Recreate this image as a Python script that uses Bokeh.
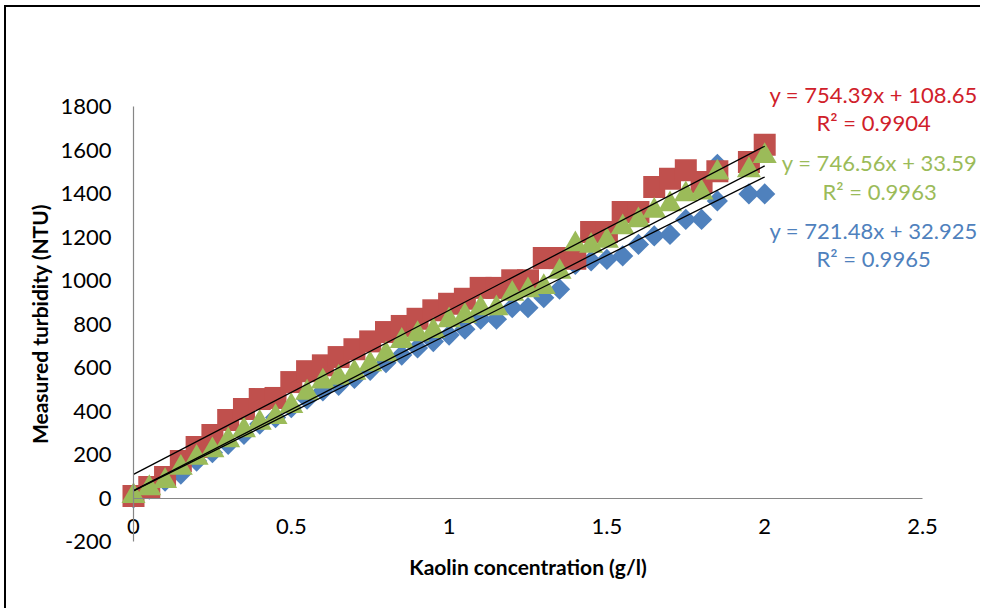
from bokeh.plotting import figure
from bokeh.models import LinearAxis, FixedTicker, Label, Range1d
from bokeh.embed import file_html
from bokeh.resources import INLINE
import math

# ---------------- data ----------------
x_vals = [0.0, 0.05, 0.1, 0.15, 0.2, 0.25, 0.3, 0.35, 0.4, 0.45,
          0.5, 0.55, 0.6, 0.65, 0.7, 0.75, 0.8, 0.85, 0.9, 0.95,
          1.0, 1.05, 1.1, 1.15, 1.2, 1.25, 1.3, 1.35, 1.4, 1.45,
          1.5, 1.55, 1.6, 1.65, 1.7, 1.75, 1.8, 1.85, 1.95, 2.0]

blue_x = [0.0, 0.05, 0.1, 0.15, 0.2, 0.25, 0.3, 0.35, 0.4, 0.45,
          0.5, 0.55, 0.6, 0.65, 0.7, 0.75, 0.8, 0.85, 0.9, 0.95,
          1.0, 1.05, 1.1, 1.15, 1.2, 1.25, 1.3, 1.35, 1.4, 1.45,
          1.5, 1.55, 1.6, 1.65, 1.7, 1.75, 1.8, 1.85, 1.85, 1.95, 2.0]
blue_y = [0, 41, 78, 110, 170, 208, 247, 293, 340, 370,
          415, 454, 492, 518, 550, 587, 622, 657, 690, 719,
          749, 776, 822, 822, 875, 875, 921, 960, 1074, 1090,
          1097, 1113, 1166, 1205, 1212, 1281, 1281, 1366, 1534, 1398, 1398]

red_y = [9, 51, 97, 170, 234, 290, 359, 409, 455, 460,
         533, 583, 610, 648, 684, 720, 763, 791, 824, 863,
         893, 916, 966, 966, 1001, 1001, 1103, 1103, 1100, 1223,
         1223, 1315, 1315, 1430, 1468, 1507, 1453, 1502, 1545, 1624]

green_y = [9, 45, 78, 139, 185, 219, 265, 311, 346, 372,
           423, 484, 535, 553, 576, 615, 661, 722, 753, 768,
           817, 837, 872, 872, 939, 955, 970, 1040, 1166, 1159,
           1182, 1244, 1277, 1320, 1350, 1396, 1404, 1496, 1507, 1572]

# trendline coefficients (as printed on the chart): blue, red, green
trend_names = ["blue", "red", "green"]
slopes = [721.48, 754.39, 746.56]
intercepts = [32.925, 108.65, 33.59]
r2_vals = [0.9965, 0.9904, 0.9963]
trend_x = [0.0, 2.0]

x_ticks = [0, 0.5, 1, 1.5, 2, 2.5]
y_ticks = [-200, 0, 200, 400, 600, 800, 1000, 1200, 1400, 1600, 1800]

# ---------------- style / layout ----------------
BLUE = "#4F81BD"
RED = "#C0504D"
GREEN = "#9BBB59"
TXT_COLORS = {"blue": "#4F81BD", "red": "#D0202A", "green": "#9BBB59"}
FONT = "Lato"
AXIS_GRAY = "#868686"

W, H = 976, 603
# frame fills the whole canvas; ranges chosen so the axis box sits where the
# reference has it (x: 0 -> 127px, 2.5 -> 916px; y: 1800 -> 99px, -200 -> 534px)
xpx = (916 - 127) / 2.5
ypx = (534 - 99) / 2000.0
x0 = -127 / xpx
x1 = 2.5 + (W - 916) / xpx
y1 = 1800 + 99 / ypx
y0 = -200 - (H - 534) / ypx

p = figure(width=W, height=H, output_backend="svg", toolbar_location=None,
           x_range=Range1d(x0, x1), y_range=Range1d(y0, y1),
           min_border=0, x_axis_location=None, y_axis_location=None)
p.styles = {"margin-left": "4px", "margin-top": "5px",
            "border-left": "2px solid #000", "border-top": "2px solid #000"}
p.outline_line_color = None
p.background_fill_color = "white"
p.border_fill_color = "white"
for g in p.grid:
    g.visible = False
p.xgrid.visible = False
p.ygrid.visible = False


def style_axis(ax, title):
    ax.axis_line_color = AXIS_GRAY
    ax.axis_line_width = 1.2
    ax.major_tick_line_color = None
    ax.minor_tick_line_color = None
    ax.major_tick_out = 0
    ax.major_tick_in = 0
    ax.major_label_text_font = FONT
    ax.major_label_text_font_size = "22px"
    ax.major_label_text_color = "#000000"
    ax.axis_label = title
    ax.axis_label_text_font = FONT
    ax.axis_label_text_font_size = "21px"
    ax.axis_label_text_font_style = "bold"
    ax.axis_label_text_color = "#000000"


ya = LinearAxis(fixed_location=0, ticker=FixedTicker(ticks=y_ticks),
                bounds=(y_ticks[0], y_ticks[-1]))
style_axis(ya, "Measured turbidity (NTU)")
ya.major_label_standoff = 22
ya.axis_label_standoff = 5
ya.major_label_overrides = {t: str(t) for t in y_ticks}
p.add_layout(ya, "left")

xa = LinearAxis(fixed_location=0, ticker=FixedTicker(ticks=x_ticks),
                bounds=(x_ticks[0], x_ticks[-1]))
style_axis(xa, "Kaolin concentration (g/l)")
xa.major_label_standoff = 21
xa.axis_label_standoff = 16
xa.major_label_overrides = {t: f"{t:g}" for t in x_ticks}
p.add_layout(xa, "below")

# markers: blue diamonds, red squares, green triangles
p.scatter(blue_x, blue_y, marker="square", angle=math.pi / 4, size=15,
          fill_color=BLUE, line_color=None)
p.scatter(x_vals, red_y, marker="square", size=22,
          fill_color=RED, line_color=None)
p.scatter(x_vals, green_y, marker="triangle", size=24,
          fill_color=GREEN, line_color=None)

# trendlines
for s, b in zip(slopes, intercepts):
    p.line(trend_x, [s * xx + b for xx in trend_x], line_color="#000000",
           line_width=1.3)

# equation labels (placed in data coordinates)
label_pos = {"red": (2.345, 1857, 1726), "green": (2.364, 1542, 1411),
             "blue": (2.345, 1228, 1099)}
for name, s, b, r2 in zip(trend_names, slopes, intercepts, r2_vals):
    lx, ly1, ly2 = label_pos[name]
    eq = f"y = {s:g}x + {b:g}"
    r2t = f"R\u00b2 = {r2:g}"
    for txt, ly in ((eq, ly1), (r2t, ly2)):
        p.add_layout(Label(x=lx, y=ly, text=txt, text_align="center",
                           text_baseline="middle", text_font=FONT,
                           text_font_size="22px",
                           text_color=TXT_COLORS[name]))

open("out.html", "w").write(file_html(p, INLINE))
